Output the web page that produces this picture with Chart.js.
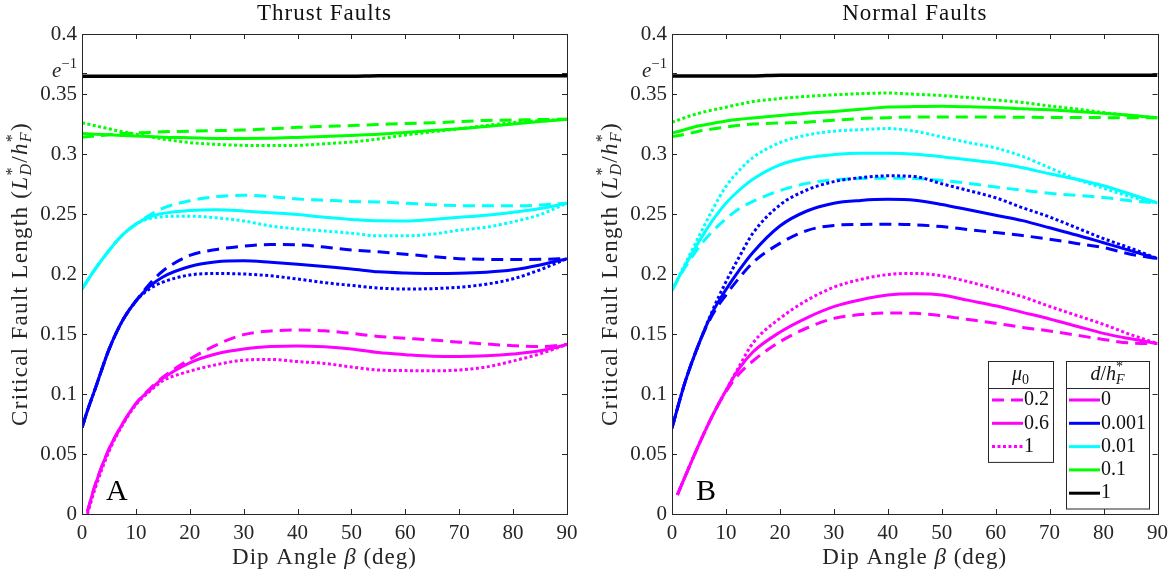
<!DOCTYPE html>
<html>
<head>
<meta charset="utf-8">
<script src="https://cdn.jsdelivr.net/npm/chart.js@4.4.1/dist/chart.umd.min.js"></script>
<style>
  body { margin: 0; background: #fff; }
  #wrap { position: relative; width: 1175px; height: 580px; }
  #thrust { position: absolute; left: 0; top: 0; }
  #normal { position: absolute; left: 590px; top: 0; }
</style>
</head>
<body>
<div id="wrap">
  <canvas id="thrust" width="590" height="580"></canvas>
  <canvas id="normal" width="585" height="580"></canvas>
</div>
<script>
const beta = [0, 1, 2.5, 5, 7.5, 10, 12.5, 15, 20, 25, 30, 35, 40, 45, 50, 55, 60, 65, 70, 75, 80, 85, 90];

// Thrust faults, d/h*F = 0 (magenta), mu0 = 0.2 / 0.6 / 1
const thrustMag02 = [null, 0.002, 0.025, 0.054, 0.075, 0.092, 0.104, 0.114, 0.129, 0.141, 0.1495, 0.1525, 0.1533, 0.1527, 0.1505, 0.148, 0.1465, 0.145, 0.1432, 0.1417, 0.1403, 0.1395, 0.1413];
const thrustMag06 = [null, 0.002, 0.025, 0.054, 0.075, 0.092, 0.103, 0.113, 0.126, 0.1335, 0.1375, 0.1395, 0.140, 0.1393, 0.1375, 0.1345, 0.1328, 0.1315, 0.1313, 0.1318, 0.1333, 0.136, 0.1413];
const thrustMag1 = [null, 0.0, 0.022, 0.052, 0.074, 0.091, 0.102, 0.111, 0.119, 0.1245, 0.1282, 0.1288, 0.127, 0.1255, 0.1225, 0.120, 0.1195, 0.1193, 0.120, 0.1225, 0.1275, 0.1335, 0.1413];
// d/h*F = 0.001 (blue)
const thrustBlue02 = [0.072, 0.086, 0.105, 0.137, 0.161, 0.1775, 0.1915, 0.2025, 0.2155, 0.2205, 0.2232, 0.2245, 0.2243, 0.2225, 0.220, 0.2185, 0.2165, 0.2145, 0.2128, 0.2122, 0.212, 0.2122, 0.2128];
const thrustBlue06 = [0.072, 0.086, 0.105, 0.137, 0.161, 0.1775, 0.1895, 0.1975, 0.2062, 0.2102, 0.211, 0.2098, 0.2082, 0.2062, 0.2042, 0.2018, 0.2008, 0.2004, 0.2006, 0.2015, 0.2035, 0.2075, 0.2128];
const thrustBlue1 = [0.072, 0.086, 0.105, 0.137, 0.161, 0.1775, 0.1875, 0.1932, 0.1992, 0.2004, 0.200, 0.1985, 0.1958, 0.1928, 0.1905, 0.1883, 0.1875, 0.1878, 0.189, 0.1915, 0.196, 0.2035, 0.2128];
// d/h*F = 0.01 (cyan)
const thrustCyan02 = [0.1875, 0.1945, 0.2045, 0.2195, 0.2325, 0.2415, 0.249, 0.2548, 0.261, 0.2645, 0.2656, 0.2645, 0.2625, 0.2615, 0.2605, 0.260, 0.259, 0.2578, 0.257, 0.2568, 0.2568, 0.2575, 0.259];
const thrustCyan06 = [0.1875, 0.1945, 0.2045, 0.2195, 0.2325, 0.2415, 0.2475, 0.2505, 0.253, 0.2536, 0.2525, 0.251, 0.2495, 0.2472, 0.2455, 0.2443, 0.2442, 0.2455, 0.2472, 0.249, 0.2515, 0.2545, 0.259];
const thrustCyan1 = [0.1875, 0.1945, 0.2045, 0.2195, 0.2325, 0.2415, 0.2462, 0.2477, 0.2482, 0.2468, 0.2442, 0.240, 0.2375, 0.2358, 0.234, 0.2318, 0.2318, 0.2332, 0.2365, 0.239, 0.2435, 0.2495, 0.259];
// d/h*F = 0.1 (green)
const thrustGreen02 = [0.314, 0.3143, 0.315, 0.316, 0.317, 0.3175, 0.318, 0.3185, 0.319, 0.3195, 0.320, 0.321, 0.3222, 0.323, 0.3237, 0.3245, 0.3255, 0.326, 0.327, 0.328, 0.3283, 0.3287, 0.329];
const thrustGreen06 = [0.317, 0.3168, 0.3165, 0.316, 0.3155, 0.315, 0.3145, 0.314, 0.3135, 0.313, 0.313, 0.3132, 0.3138, 0.3145, 0.3155, 0.3165, 0.318, 0.3195, 0.321, 0.323, 0.325, 0.327, 0.329];
const thrustGreen1 = [0.326, 0.325, 0.3235, 0.321, 0.3185, 0.3165, 0.3145, 0.3125, 0.3095, 0.308, 0.3072, 0.307, 0.3072, 0.3085, 0.310, 0.3125, 0.3158, 0.3185, 0.321, 0.3238, 0.3262, 0.3278, 0.329];
// d/h*F = 1 (black)
const thrustBlack = [0.3648, 0.3648, 0.3648, 0.3648, 0.3648, 0.3648, 0.3648, 0.3648, 0.3648, 0.3648, 0.3648, 0.3648, 0.3648, 0.3648, 0.3648, 0.3652, 0.3652, 0.3652, 0.3652, 0.3652, 0.3652, 0.3652, 0.3652];

// Normal faults
const normalMag02 = [null, 0.016, 0.032, 0.058, 0.082, 0.102, 0.117, 0.1275, 0.1435, 0.155, 0.163, 0.1662, 0.1675, 0.1672, 0.1652, 0.162, 0.159, 0.1555, 0.1525, 0.149, 0.1455, 0.1425, 0.1421];
const normalMag06 = [null, 0.016, 0.032, 0.058, 0.082, 0.103, 0.1215, 0.135, 0.1515, 0.1635, 0.1728, 0.1785, 0.1825, 0.1835, 0.1825, 0.178, 0.1735, 0.168, 0.1625, 0.1565, 0.1505, 0.146, 0.1421];
const normalMag1 = [null, 0.016, 0.032, 0.058, 0.082, 0.103, 0.1235, 0.1425, 0.163, 0.178, 0.189, 0.1955, 0.1995, 0.2005, 0.1985, 0.1935, 0.1875, 0.181, 0.173, 0.1655, 0.158, 0.1495, 0.1421];
const normalBlue02 = [0.0715, 0.088, 0.111, 0.142, 0.166, 0.1825, 0.197, 0.2095, 0.2255, 0.2362, 0.2405, 0.2413, 0.2415, 0.241, 0.2395, 0.237, 0.2345, 0.232, 0.229, 0.2255, 0.222, 0.2165, 0.2128];
const normalBlue06 = [0.0715, 0.088, 0.111, 0.142, 0.168, 0.187, 0.2035, 0.218, 0.240, 0.2525, 0.259, 0.2613, 0.2622, 0.2615, 0.258, 0.2535, 0.249, 0.2445, 0.2385, 0.2325, 0.226, 0.2195, 0.2128];
const normalBlue1 = [0.0715, 0.088, 0.111, 0.142, 0.1695, 0.1935, 0.2145, 0.234, 0.2575, 0.270, 0.277, 0.2803, 0.2818, 0.2812, 0.2752, 0.2695, 0.2635, 0.2552, 0.2475, 0.2385, 0.2295, 0.2215, 0.2128];
const normalCyan02 = [0.1865, 0.1945, 0.206, 0.2225, 0.2355, 0.246, 0.2545, 0.2605, 0.2695, 0.2755, 0.2785, 0.2795, 0.2798, 0.2795, 0.278, 0.2755, 0.2725, 0.2698, 0.2672, 0.2655, 0.2638, 0.261, 0.2592];
const normalCyan06 = [0.1865, 0.195, 0.2075, 0.227, 0.2445, 0.259, 0.270, 0.279, 0.291, 0.2968, 0.2995, 0.3007, 0.3006, 0.2998, 0.2978, 0.2952, 0.2925, 0.2885, 0.2835, 0.279, 0.2735, 0.2665, 0.2592];
const normalCyan1 = [0.1865, 0.1955, 0.209, 0.2315, 0.2535, 0.273, 0.2865, 0.297, 0.3095, 0.3158, 0.319, 0.3203, 0.3212, 0.319, 0.3142, 0.3095, 0.305, 0.298, 0.2885, 0.279, 0.2715, 0.2645, 0.2592];
const normalGreen02 = [0.3145, 0.3152, 0.3165, 0.319, 0.3208, 0.3225, 0.324, 0.325, 0.3258, 0.3265, 0.3282, 0.3295, 0.3303, 0.3308, 0.3308, 0.3308, 0.3308, 0.3306, 0.3305, 0.3305, 0.3303, 0.3302, 0.3302];
const normalGreen06 = [0.3175, 0.3185, 0.3205, 0.3235, 0.3255, 0.3275, 0.329, 0.330, 0.332, 0.334, 0.3355, 0.3372, 0.3392, 0.3395, 0.3397, 0.3393, 0.3388, 0.3377, 0.3368, 0.3355, 0.334, 0.3322, 0.3302];
const normalGreen1 = [0.3265, 0.328, 0.3305, 0.334, 0.3367, 0.339, 0.3415, 0.3437, 0.3462, 0.348, 0.3493, 0.3503, 0.3508, 0.3498, 0.3487, 0.347, 0.345, 0.343, 0.340, 0.3375, 0.3345, 0.332, 0.3302];
const normalBlack = [0.365, 0.365, 0.365, 0.365, 0.365, 0.365, 0.365, 0.365, 0.3657, 0.3657, 0.3657, 0.3657, 0.3657, 0.3657, 0.3657, 0.3657, 0.3657, 0.3657, 0.3657, 0.3657, 0.3657, 0.3657, 0.3657];

const yTicks = [0, 0.05, 0.1, 0.15, 0.2, 0.25, 0.3, 0.35, 0.4];
const E_INV = Math.exp(-1);
const mu0Labels = ['0.2', '0.6', '1'];
const dLabels = ['0', '0.001', '0.01', '0.1', '1'];

const MAG = '#ff00ff', BLUE = '#0000ff', CYAN = '#00ffff', GREEN = '#00ff00', BLACK = '#000000';
const DASH = [12, 7], DOT = [3, 2.5], SOLID = [];
const AXIS = '#262626';
const SERIF = '"Liberation Serif", "Times New Roman", serif';

// ---- rich text (italic, super/subscript) ----
function layoutRich(ctx, parts, size, spacing) {
  let x = 0, hold = 0;
  const items = [];
  ctx.letterSpacing = (spacing || 0) + 'px';
  for (const p of parts) {
    const s = (p.sup || p.sub) ? size * 0.7 : size;
    const font = (p.it ? 'italic ' : '') + s + 'px ' + SERIF;
    ctx.font = font;
    const w = ctx.measureText(p.t).width;
    const dy = p.sup ? -size * 0.36 : p.sub ? size * 0.25 : 0;
    items.push({ t: p.t, font: font, x: x, dy: dy });
    if (p.hold) { hold = w; } else { x += Math.max(w, hold); hold = 0; }
  }
  return { items: items, width: x };
}
function drawRich(ctx, parts, x, y, size, align, spacing) {
  const L = layoutRich(ctx, parts, size, spacing);
  let x0 = x;
  if (align === 'center') x0 = x - L.width / 2;
  if (align === 'right') x0 = x - L.width;
  ctx.textAlign = 'left';
  ctx.textBaseline = 'middle';
  L.items.forEach(function (it) {
    ctx.font = it.font;
    ctx.fillText(it.t, x0 + it.x, y + it.dy);
  });
  ctx.letterSpacing = '0px';
}

const yTitle = [
  { t: 'Critical Fault Length (' },
  { t: 'L', it: true }, { t: '*', sup: true, hold: true }, { t: 'D', it: true, sub: true },
  { t: '/' },
  { t: 'h', it: true }, { t: '*', sup: true, hold: true }, { t: 'F', it: true, sub: true },
  { t: ')' }
];
const xTitle = [{ t: 'Dip Angle ' }, { t: 'β', it: true }, { t: ' (deg)' }];
const muHead = [{ t: 'μ', it: true }, { t: '0', sub: true }];
const dHead = [{ t: 'd', it: true }, { t: '/' }, { t: 'h', it: true }, { t: '*', sup: true, hold: true }, { t: 'F', it: true, sub: true }];

function toPoints(vals) {
  return beta.map(function (b, i) { return { x: b, y: vals[i] }; });
}
function line(vals, color, dash, width) {
  return {
    data: toPoints(vals),
    borderColor: color,
    borderWidth: width || 3,
    borderDash: dash,
    borderCapStyle: 'butt',
    pointRadius: 0,
    fill: false,
    cubicInterpolationMode: 'monotone'
  };
}

// frame, inner ticks, titles, panel letter, legend
function panelPlugin(p) {
  return {
    id: 'panel' + p.letter,
    afterDraw: function (chart) {
      const ctx = chart.ctx;
      const a = chart.chartArea;
      const xs = chart.scales.x, ys = chart.scales.y;
      ctx.save();
      ctx.strokeStyle = AXIS;
      ctx.lineWidth = 1;
      ctx.setLineDash([]);
      ctx.strokeRect(Math.round(a.left) + 0.5, Math.round(a.top) + 0.5, Math.round(a.right - a.left), Math.round(a.bottom - a.top));
      ctx.beginPath();
      xs.ticks.forEach(function (t) {
        const px = Math.round(xs.getPixelForValue(t.value)) + 0.5;
        ctx.moveTo(px, a.bottom); ctx.lineTo(px, a.bottom - 5);
        ctx.moveTo(px, a.top); ctx.lineTo(px, a.top + 5);
      });
      ys.ticks.forEach(function (t) {
        const py = Math.round(ys.getPixelForValue(t.value)) + 0.5;
        ctx.moveTo(a.left, py); ctx.lineTo(a.left + 5, py);
        ctx.moveTo(a.right, py); ctx.lineTo(a.right - 5, py);
      });
      ctx.stroke();

      ctx.fillStyle = '#262626';
      // e^-1 tick label
      const ey = ys.getPixelForValue(E_INV);
      drawRich(ctx, [{ t: 'e', it: true }, { t: '−1', sup: true }], a.left - 5, ey - 1, 21, 'right');
      // titles
      ctx.fillStyle = '#111';
      drawRich(ctx, [{ t: p.title }], (a.left + a.right) / 2, 14, 23, 'center', 1);
      ctx.fillStyle = '#262626';
      drawRich(ctx, xTitle, (a.left + a.right) / 2, 558, 23, 'center', 1);
      ctx.save();
      ctx.translate(21, (a.top + a.bottom) / 2);
      ctx.rotate(-Math.PI / 2);
      drawRich(ctx, yTitle, 0, 0, 23, 'center', 1.3);
      ctx.restore();
      // panel letter
      ctx.fillStyle = '#000';
      ctx.font = '30px ' + SERIF;
      ctx.textAlign = 'left';
      ctx.textBaseline = 'alphabetic';
      ctx.fillText(p.letter, a.left + 24, a.bottom - 14);

      if (p.legend) drawLegend(ctx);
      ctx.restore();
    }
  };
}

function drawLegend(ctx) {
  // boxes sit at fixed spots in the lower right of panel B
  const boxes = [
    { x: 398, w: 65, top: 361, rows: mu0Labels.map(function (l, i) { return { label: l, color: MAG, dash: [DASH, SOLID, DOT][i] }; }), head: muHead, lineX: [402, 433] },
    { x: 476, w: 83, top: 361, rows: dLabels.map(function (l, i) { return { label: l, color: [MAG, BLUE, CYAN, GREEN, BLACK][i], dash: SOLID }; }), head: dHead, lineX: [479, 510] }
  ];
  boxes.forEach(function (b) {
    const rowH = 23.3;
    const headH = 27;
    const h = headH + b.rows.length * rowH + 4;
    ctx.fillStyle = '#fff';
    ctx.fillRect(b.x, b.top, b.w, h);
    ctx.strokeStyle = AXIS;
    ctx.lineWidth = 1;
    ctx.setLineDash([]);
    ctx.strokeRect(b.x + 0.5, b.top + 0.5, b.w, h);
    ctx.beginPath();
    ctx.moveTo(b.x, b.top + headH + 0.5);
    ctx.lineTo(b.x + b.w, b.top + headH + 0.5);
    ctx.stroke();
    ctx.fillStyle = '#111';
    drawRich(ctx, b.head, b.x + b.w / 2, b.top + 14, 20, 'center');
    b.rows.forEach(function (r, i) {
      const y = b.top + headH + 12 + i * rowH;
      ctx.strokeStyle = r.color;
      ctx.lineWidth = 3;
      ctx.setLineDash(r.dash);
      ctx.beginPath();
      ctx.moveTo(b.lineX[0], y);
      ctx.lineTo(b.lineX[1], y);
      ctx.stroke();
      ctx.setLineDash([]);
      ctx.fillStyle = '#111';
      ctx.font = '20px ' + SERIF;
      ctx.textAlign = 'left';
      ctx.textBaseline = 'middle';
      ctx.fillText(r.label, b.lineX[1] + 1, y);
    });
  });
}

function makePanel(id, p) {
  const tickFont = { family: SERIF, size: 21 };
  const datasets = [
    line(p.mag[0], MAG, DASH), line(p.mag[1], MAG, SOLID), line(p.mag[2], MAG, DOT),
    line(p.blue[0], BLUE, DASH), line(p.blue[1], BLUE, SOLID), line(p.blue[2], BLUE, DOT),
    line(p.cyan[0], CYAN, DASH), line(p.cyan[1], CYAN, SOLID), line(p.cyan[2], CYAN, DOT),
    line(p.green[0], GREEN, DASH), line(p.green[1], GREEN, SOLID), line(p.green[2], GREEN, DOT),
    line(p.black, BLACK, SOLID, 3.5)
  ];
  return new Chart(document.getElementById(id), {
    type: 'line',
    data: { datasets: datasets },
    options: {
      responsive: false,
      animation: false,
      devicePixelRatio: 1,
      layout: { padding: { top: 34, right: p.padRight, left: 0, bottom: 0 } },
      plugins: { legend: { display: false }, tooltip: { enabled: false }, title: { display: false } },
      scales: {
        x: {
          type: 'linear', min: 0, max: 90,
          afterFit: function (s) { s.height = 66; },
          grid: { display: false, drawTicks: false },
          border: { display: false },
          ticks: { stepSize: 10, font: tickFont, color: AXIS, padding: 7, maxRotation: 0, autoSkip: false }
        },
        y: {
          type: 'linear', min: 0, max: 0.4,
          afterFit: function (s) { s.width = 82; },
          afterBuildTicks: function (s) {
            s.ticks = yTicks.map(function (v) { return { value: v }; });
            s.ticks.push({ value: E_INV });
            s.ticks.sort(function (a, b) { return a.value - b.value; });
          },
          grid: { display: false, drawTicks: false },
          border: { display: false },
          ticks: {
            font: tickFont, color: AXIS, padding: 5, autoSkip: false,
            callback: function (v) { return Math.abs(v - E_INV) < 1e-6 ? '' : String(Number(v.toFixed(2))); }
          }
        }
      }
    },
    plugins: [panelPlugin(p)]
  });
}

makePanel('thrust', {
  title: 'Thrust Faults', letter: 'A', padRight: 23, legend: false,
  mag: [thrustMag02, thrustMag06, thrustMag1],
  blue: [thrustBlue02, thrustBlue06, thrustBlue1],
  cyan: [thrustCyan02, thrustCyan06, thrustCyan1],
  green: [thrustGreen02, thrustGreen06, thrustGreen1],
  black: thrustBlack
});
makePanel('normal', {
  title: 'Normal Faults', letter: 'B', padRight: 17, legend: true,
  mag: [normalMag02, normalMag06, normalMag1],
  blue: [normalBlue02, normalBlue06, normalBlue1],
  cyan: [normalCyan02, normalCyan06, normalCyan1],
  green: [normalGreen02, normalGreen06, normalGreen1],
  black: normalBlack
});
</script>
</body>
</html>
